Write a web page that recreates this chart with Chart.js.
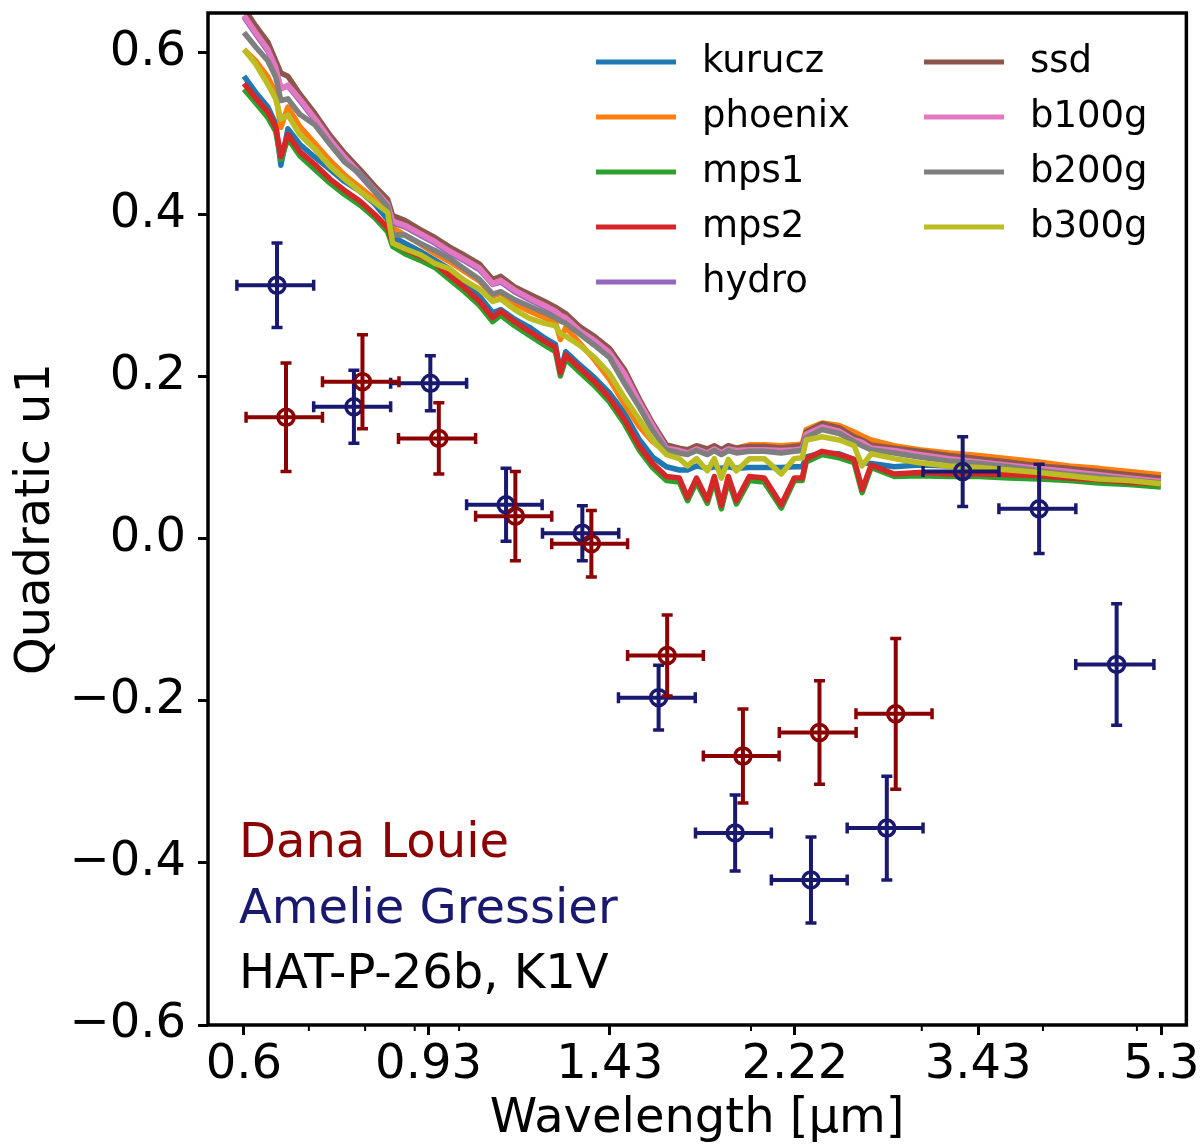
<!DOCTYPE html>
<html>
<head>
<meta charset="utf-8">
<title>Quadratic u1 - HAT-P-26b</title>
<script src="https://cdn.jsdelivr.net/npm/chart.js@4.4.1/dist/chart.umd.min.js"></script>
<style>
  body { margin: 0; background: #ffffff; }
  #contenedor { width: 1202px; height: 1148px; }
</style>
</head>
<body>
<div id="contenedor"><canvas id="grafico_u1" width="1202" height="1148"></canvas></div>
<script>
// longitudes de onda de los modelos (um)
const wavelengths = [
  0.600, 0.617, 0.635, 0.647, 0.655, 0.666, 0.685, 0.710, 0.736, 0.762,
  0.790, 0.819, 0.844, 0.854, 0.879, 0.911, 0.944, 0.978, 1.013, 1.050,
  1.083, 1.104, 1.141, 1.182, 1.225, 1.257, 1.272, 1.288, 1.331, 1.379,
  1.429, 1.481, 1.535, 1.583, 1.636, 1.687, 1.720, 1.757, 1.803, 1.833,
  1.864, 1.895, 1.932, 1.992, 2.064, 2.149, 2.216, 2.259, 2.280, 2.368,
  2.466, 2.555, 2.604, 2.660, 2.810, 2.981, 3.200, 3.437, 3.690, 3.962,
  4.255, 4.568, 4.905, 5.293,
];

const kurucz = [
  0.571, 0.551, 0.533, 0.512, 0.461, 0.506, 0.487, 0.471, 0.456, 0.441,
  0.429, 0.413, 0.394, 0.373, 0.365, 0.355, 0.344, 0.333, 0.315, 0.299,
  0.279, 0.283, 0.271, 0.261, 0.248, 0.240, 0.205, 0.231, 0.215, 0.199,
  0.180, 0.155, 0.122, 0.101, 0.089, 0.085, 0.085, 0.090, 0.087, 0.089,
  0.087, 0.089, 0.087, 0.088, 0.088, 0.088, 0.089, 0.089, 0.101, 0.106,
  0.105, 0.098, 0.094, 0.093, 0.089, 0.091, 0.090, 0.088, 0.087, 0.085,
  0.084, 0.082, 0.078, 0.075,
];
const phoenix = [
  0.604, 0.590, 0.570, 0.549, 0.508, 0.533, 0.509, 0.488, 0.467, 0.449,
  0.434, 0.419, 0.407, 0.384, 0.375, 0.364, 0.352, 0.342, 0.330, 0.318,
  0.300, 0.303, 0.290, 0.281, 0.273, 0.267, 0.246, 0.261, 0.242, 0.221,
  0.197, 0.166, 0.138, 0.120, 0.107, 0.107, 0.107, 0.111, 0.109, 0.111,
  0.109, 0.112, 0.112, 0.116, 0.116, 0.115, 0.116, 0.117, 0.135, 0.143,
  0.140, 0.132, 0.127, 0.122, 0.115, 0.110, 0.106, 0.103, 0.099, 0.095,
  0.090, 0.087, 0.083, 0.079,
];
const mps1 = [
  0.555, 0.538, 0.520, 0.503, 0.468, 0.494, 0.473, 0.456, 0.439, 0.425,
  0.412, 0.396, 0.379, 0.361, 0.352, 0.344, 0.335, 0.320, 0.305, 0.288,
  0.268, 0.276, 0.263, 0.251, 0.239, 0.231, 0.201, 0.222, 0.206, 0.189,
  0.169, 0.142, 0.109, 0.088, 0.072, 0.070, 0.047, 0.070, 0.044, 0.072,
  0.037, 0.072, 0.043, 0.072, 0.070, 0.038, 0.072, 0.072, 0.095, 0.104,
  0.100, 0.094, 0.057, 0.088, 0.077, 0.078, 0.077, 0.077, 0.075, 0.074,
  0.072, 0.069, 0.067, 0.064,
];
const mps2 = [
  0.562, 0.544, 0.527, 0.508, 0.472, 0.499, 0.478, 0.462, 0.444, 0.430,
  0.417, 0.400, 0.384, 0.366, 0.357, 0.349, 0.340, 0.325, 0.310, 0.293,
  0.273, 0.281, 0.268, 0.256, 0.244, 0.236, 0.205, 0.227, 0.211, 0.194,
  0.174, 0.147, 0.114, 0.093, 0.077, 0.075, 0.051, 0.075, 0.048, 0.077,
  0.041, 0.077, 0.047, 0.077, 0.075, 0.042, 0.075, 0.075, 0.099, 0.108,
  0.104, 0.098, 0.061, 0.091, 0.080, 0.082, 0.080, 0.080, 0.079, 0.078,
  0.075, 0.073, 0.070, 0.068,
];
const hydro = [
  0.644, 0.623, 0.602, 0.580, 0.556, 0.559, 0.541, 0.517, 0.491, 0.469,
  0.449, 0.428, 0.411, 0.390, 0.385, 0.375, 0.365, 0.353, 0.343, 0.332,
  0.314, 0.317, 0.305, 0.295, 0.286, 0.279, 0.274, 0.271, 0.255, 0.243,
  0.228, 0.202, 0.166, 0.138, 0.111, 0.108, 0.105, 0.110, 0.105, 0.110,
  0.105, 0.110, 0.108, 0.109, 0.109, 0.108, 0.109, 0.110, 0.128, 0.137,
  0.132, 0.121, 0.118, 0.111, 0.108, 0.103, 0.098, 0.094, 0.090, 0.086,
  0.082, 0.078, 0.074, 0.070,
];
const ssd = [
  0.655, 0.633, 0.613, 0.590, 0.575, 0.571, 0.549, 0.525, 0.498, 0.476,
  0.456, 0.435, 0.419, 0.399, 0.393, 0.382, 0.372, 0.360, 0.350, 0.339,
  0.320, 0.324, 0.311, 0.302, 0.293, 0.286, 0.282, 0.278, 0.262, 0.250,
  0.235, 0.209, 0.172, 0.143, 0.116, 0.112, 0.110, 0.115, 0.111, 0.115,
  0.110, 0.115, 0.112, 0.114, 0.114, 0.112, 0.114, 0.115, 0.132, 0.142,
  0.137, 0.126, 0.122, 0.116, 0.112, 0.108, 0.103, 0.099, 0.095, 0.090,
  0.087, 0.083, 0.079, 0.075,
];
const b100g = [
  0.646, 0.625, 0.604, 0.582, 0.555, 0.560, 0.543, 0.519, 0.493, 0.471,
  0.451, 0.430, 0.413, 0.392, 0.387, 0.377, 0.367, 0.355, 0.345, 0.334,
  0.315, 0.319, 0.307, 0.297, 0.288, 0.281, 0.276, 0.273, 0.257, 0.245,
  0.230, 0.204, 0.168, 0.140, 0.112, 0.109, 0.106, 0.111, 0.106, 0.111,
  0.106, 0.111, 0.109, 0.110, 0.110, 0.109, 0.110, 0.111, 0.129, 0.138,
  0.133, 0.122, 0.119, 0.112, 0.109, 0.104, 0.099, 0.095, 0.091, 0.087,
  0.083, 0.079, 0.075, 0.071,
];
const b200g = [
  0.625, 0.607, 0.590, 0.570, 0.541, 0.543, 0.524, 0.511, 0.487, 0.465,
  0.451, 0.429, 0.410, 0.375, 0.375, 0.365, 0.356, 0.346, 0.333, 0.320,
  0.302, 0.305, 0.295, 0.287, 0.279, 0.273, 0.269, 0.266, 0.253, 0.239,
  0.224, 0.192, 0.162, 0.134, 0.110, 0.106, 0.104, 0.109, 0.104, 0.109,
  0.104, 0.109, 0.106, 0.108, 0.108, 0.106, 0.108, 0.109, 0.125, 0.135,
  0.130, 0.120, 0.115, 0.110, 0.106, 0.101, 0.096, 0.093, 0.089, 0.084,
  0.080, 0.077, 0.073, 0.069,
];
const b300g = [
  0.604, 0.586, 0.561, 0.543, 0.518, 0.523, 0.499, 0.481, 0.460, 0.444,
  0.429, 0.415, 0.403, 0.365, 0.358, 0.351, 0.340, 0.333, 0.319, 0.308,
  0.293, 0.296, 0.283, 0.272, 0.266, 0.263, 0.253, 0.250, 0.239, 0.224,
  0.204, 0.174, 0.147, 0.122, 0.104, 0.099, 0.090, 0.099, 0.084, 0.099,
  0.075, 0.098, 0.084, 0.099, 0.099, 0.080, 0.099, 0.100, 0.122, 0.126,
  0.122, 0.115, 0.090, 0.105, 0.099, 0.094, 0.090, 0.088, 0.085, 0.082,
  0.078, 0.074, 0.072, 0.068,
];

// mediciones (centro del bin, medio ancho, u1, error)
const louieWl = [0.663, 0.795, 0.953, 1.143, 1.369, 1.639, 1.962, 2.353, 2.820];
const louieWlErr = [0.060, 0.072, 0.087, 0.103, 0.123, 0.147, 0.176, 0.214, 0.254];
const louieU1 = [0.150, 0.194, 0.124, 0.028, -0.006, -0.144, -0.268, -0.239, -0.216];
const louieU1Err = [0.067, 0.058, 0.044, 0.055, 0.041, 0.050, 0.058, 0.064, 0.093];

const gressierWl = [0.649, 0.779, 0.934, 1.118, 1.340, 1.606, 1.926, 2.306, 2.761, 3.306, 3.964, 4.765];
const gressierWlErr = [0.059, 0.071, 0.084, 0.100, 0.121, 0.146, 0.173, 0.207, 0.248, 0.297, 0.361, 0.441];
const gressierU1 = [0.313, 0.163, 0.192, 0.042, 0.007, -0.196, -0.363, -0.421, -0.357, 0.083, 0.037, -0.155];
const gressierU1Err = [0.052, 0.045, 0.034, 0.045, 0.034, 0.040, 0.047, 0.053, 0.064, 0.043, 0.055, 0.075];

// ejes
const xTicks = [0.6, 0.93, 1.43, 2.22, 3.43, 5.3];
const xTickLabels = ["0.6", "0.93", "1.43", "2.22", "3.43", "5.3"];
const xMinorTicks = [0.7, 0.8, 0.9, 1, 2, 3, 4, 5];
const yTicks = [-0.6, -0.4, -0.2, 0, 0.2, 0.4, 0.6];
const yTickLabels = ["\u22120.6", "\u22120.4", "\u22120.2", "0.0", "0.2", "0.4", "0.6"];

const anotaciones = ["Dana Louie", "Amelie Gressier", "HAT-P-26b, K1V"];

const FUENTE = "'DejaVu Sans', sans-serif";
const ROJO = "#8b0000";
const AZUL = "#191970";

const modelos = [
  { label: "kurucz", data: kurucz, color: "#1f77b4" },
  { label: "phoenix", data: phoenix, color: "#ff7f0e" },
  { label: "mps1", data: mps1, color: "#2ca02c" },
  { label: "mps2", data: mps2, color: "#d62728" },
  { label: "hydro", data: hydro, color: "#9467bd" },
  { label: "ssd", data: ssd, color: "#8c564b" },
  { label: "b100g", data: b100g, color: "#e377c2" },
  { label: "b200g", data: b200g, color: "#7f7f7f" },
  { label: "b300g", data: b300g, color: "#bcbd22" },
];

const mediciones = [
  { nombre: anotaciones[1], wl: gressierWl, wlErr: gressierWlErr, u1: gressierU1, u1Err: gressierU1Err, color: AZUL },
  { nombre: anotaciones[0], wl: louieWl, wlErr: louieWlErr, u1: louieU1, u1Err: louieU1Err, color: ROJO },
];

const datasets_modelos = modelos.map((m, i) => ({
  label: m.label,
  data: wavelengths.map((w, j) => ({ x: w, y: m.data[j] })),
  borderColor: m.color,
  backgroundColor: m.color,
  borderWidth: 5.5,
  pointRadius: 0,
  tension: 0,
  borderJoinStyle: "round",
  order: 20 - i, // el ultimo modelo queda encima, como en matplotlib
}));

const datasets_puntos = mediciones.map((s, i) => ({
  label: s.nombre,
  data: s.wl.map((w, j) => ({ x: w, y: s.u1[j] })),
  showLine: false,
  borderColor: s.color,
  pointBorderColor: s.color,
  pointBackgroundColor: "rgba(0,0,0,0)",
  pointRadius: 8,
  pointBorderWidth: 3.5,
  order: 2 - i,
}));

// barras de error, marco, ticks menores, leyenda y textos
const plugin_extras = [
  {
    id: "barrasError",
    afterDatasetsDraw: (chart) => {
      const { ctx, scales } = chart;
      const x = scales.x;
      const y = scales.y;
      const cap = 5.5;
      ctx.save();
      ctx.lineCap = "butt";
      mediciones.forEach((s) => {
        ctx.strokeStyle = s.color;
        s.wl.forEach((w, j) => {
          const px = x.getPixelForValue(w);
          const py = y.getPixelForValue(s.u1[j]);
          const x0 = x.getPixelForValue(w - s.wlErr[j]);
          const x1 = x.getPixelForValue(w + s.wlErr[j]);
          const y0 = y.getPixelForValue(s.u1[j] + s.u1Err[j]);
          const y1 = y.getPixelForValue(s.u1[j] - s.u1Err[j]);
          ctx.lineWidth = 4;
          ctx.beginPath();
          ctx.moveTo(x0, py);
          ctx.lineTo(x1, py);
          ctx.moveTo(px, y0);
          ctx.lineTo(px, y1);
          ctx.stroke();
          ctx.lineWidth = 3.5;
          ctx.beginPath();
          ctx.moveTo(x0, py - cap);
          ctx.lineTo(x0, py + cap);
          ctx.moveTo(x1, py - cap);
          ctx.lineTo(x1, py + cap);
          ctx.moveTo(px - cap, y0);
          ctx.lineTo(px + cap, y0);
          ctx.moveTo(px - cap, y1);
          ctx.lineTo(px + cap, y1);
          ctx.stroke();
        });
      });
      ctx.restore();
    },
  },
  {
    id: "marcoYTextos",
    afterDraw: (chart) => {
      const { ctx, chartArea } = chart;
      const x = chart.scales.x;
      ctx.save();
      // marco
      ctx.strokeStyle = "#000";
      ctx.lineWidth = 3.5;
      ctx.strokeRect(
        chartArea.left,
        chartArea.top,
        chartArea.right - chartArea.left,
        chartArea.bottom - chartArea.top
      );
      // ticks menores (escala log)
      ctx.lineWidth = 2;
      xMinorTicks.forEach((v) => {
        const px = x.getPixelForValue(v);
        ctx.beginPath();
        ctx.moveTo(px, chartArea.bottom);
        ctx.lineTo(px, chartArea.bottom + 6);
        ctx.stroke();
      });

      // leyenda en dos columnas
      ctx.font = "37px " + FUENTE;
      ctx.textBaseline = "middle";
      ctx.textAlign = "left";
      ctx.lineWidth = 5;
      modelos.forEach((m, i) => {
        const col = i < 5 ? 0 : 1;
        const fila = i < 5 ? i : i - 5;
        const lx = chartArea.left + 388 + col * 328;
        const ly = chartArea.top + 49 + fila * 55;
        ctx.strokeStyle = m.color;
        ctx.beginPath();
        ctx.moveTo(lx, ly);
        ctx.lineTo(lx + 80, ly);
        ctx.stroke();
        ctx.fillStyle = "#000";
        ctx.fillText(m.label, lx + 106, ly);
      });

      // textos de autores y objeto
      ctx.font = "48px " + FUENTE;
      ctx.textBaseline = "alphabetic";
      const colores = [ROJO, AZUL, "#000"];
      anotaciones.forEach((t, i) => {
        ctx.fillStyle = colores[i];
        ctx.fillText(t, chartArea.left + 31, chartArea.bottom - 168 + i * 65.5);
      });
      ctx.restore();
    },
  },
];

const ctx = document.getElementById("grafico_u1").getContext("2d");
const chart_u1 = new Chart(ctx, {
  type: "line",
  data: {
    datasets: [...datasets_puntos, ...datasets_modelos],
  },
  options: {
    responsive: false,
    devicePixelRatio: 1,
    animation: false,
    layout: {
      padding: { top: 13, right: 15, bottom: 0, left: 0 },
    },
    plugins: {
      legend: { display: false },
      tooltip: { enabled: false },
    },
    scales: {
      x: {
        type: "logarithmic",
        min: 0.5509,
        max: 5.623,
        afterBuildTicks: (scale) => {
          scale.ticks = xTicks.map((v) => ({ value: v }));
        },
        afterFit: (scale) => {
          scale.height = 123;
        },
        border: { display: false },
        grid: {
          drawOnChartArea: false,
          drawTicks: true,
          tickLength: 10,
          tickWidth: 3,
          tickColor: "#000",
        },
        ticks: {
          autoSkip: false,
          maxRotation: 0,
          padding: 2,
          color: "#000",
          font: { family: FUENTE, size: 48 },
          callback: (value, index) => xTickLabels[index],
        },
        title: {
          display: true,
          text: "Wavelength [\u03bcm]",
          color: "#000",
          font: { family: FUENTE, size: 48 },
          padding: { top: 0, bottom: 0 },
        },
      },
      y: {
        type: "linear",
        min: -0.6,
        max: 0.649,
        afterBuildTicks: (scale) => {
          scale.ticks = yTicks.map((v) => ({ value: v }));
        },
        afterFit: (scale) => {
          scale.width = 208;
          // sin margen extra arriba/abajo por las etiquetas
          scale.paddingTop = 0;
          scale.paddingBottom = 0;
        },
        border: { display: false },
        grid: {
          drawOnChartArea: false,
          drawTicks: true,
          tickLength: 10,
          tickWidth: 3,
          tickColor: "#000",
        },
        ticks: {
          padding: 12,
          color: "#000",
          font: { family: FUENTE, size: 48 },
          callback: (value, index) => yTickLabels[index],
        },
        title: {
          display: true,
          text: "Quadratic u1",
          color: "#000",
          font: { family: FUENTE, size: 48 },
          padding: { top: 8, bottom: 0 },
        },
      },
    },
  },
  plugins: plugin_extras,
});
</script>
</body>
</html>
